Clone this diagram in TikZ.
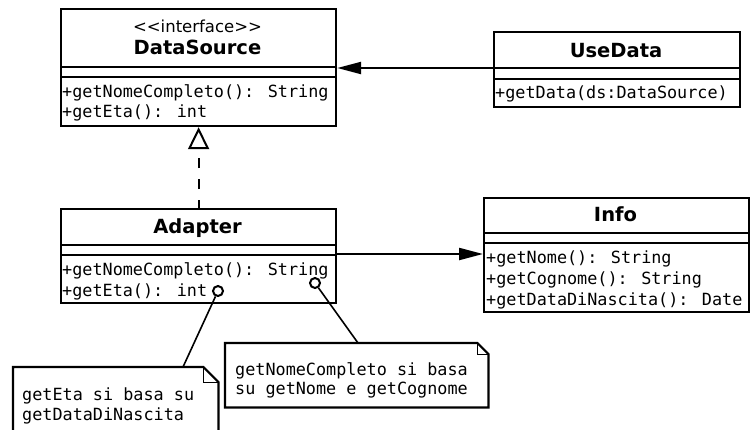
\documentclass[tikz,border=0pt]{standalone}
\usepackage{fontspec}
\setmainfont{DejaVu Sans}
\newfontfamily\monof{DejaVu Sans Mono}
\usetikzlibrary{arrows.meta,calc}
\tikzset{
  classbox/.style={draw, line width=2.2pt, inner sep=0pt, anchor=north west},
  sepline/.style={line width=2.2pt},
  ctitle/.style={font=\fontsize{19.5}{22}\selectfont\bfseries, inner sep=0pt, anchor=base},
  stereo/.style={font=\fontsize{16.5}{19}\selectfont, inner sep=0pt, anchor=base},
  optext/.style={font=\monof\fontsize{16.8}{20}\selectfont, inner sep=0pt, anchor=base west},
  assoc/.style={line width=2.2pt, -{Triangle[length=24pt,width=12pt]}},
  realize/.style={line width=2.2pt, dash pattern=on 10pt off 11pt, dash phase=2pt, -{Triangle[open,length=22pt,width=21pt,line width=2pt]}},
  notearea/.style={inner sep=0pt, anchor=north west},
  noteline/.style={line width=2.2pt, line join=miter},
  foldline/.style={line width=1pt},
  anchorcirc/.style={circle, draw, line width=2pt, minimum size=10pt, inner sep=0pt, fill=white},
  notelink/.style={line width=1.6pt}
}
\begin{document}
\begin{tikzpicture}[x=1pt,y=-1pt]
\useasboundingbox (0,0) rectangle (755,429);
\clip (0,0) rectangle (755,429);
\fill[white] (0,0) rectangle (755,429);

% DataSource
\node[classbox, minimum width=275pt, minimum height=117pt] (ds) at (60,8) {};
\draw[sepline] (60,67) -- (335,67);
\draw[sepline] (60,77) -- (335,77);
\node[stereo] (dsSt) at (197.5,32) {<\kern0pt<interface>\kern0pt>};
\node[ctitle] (dsName) at (197.5,54) {DataSource};
\node[optext] (dsOp1) at (62,97) {+getNomeCompleto(): String};
\node[optext] (dsOp2) at (62,117) {+getEta(): int};

% UseData
\node[classbox, minimum width=246pt, minimum height=75pt] (ud) at (493,31) {};
\draw[sepline] (493,68) -- (739,68);
\draw[sepline] (493,79) -- (739,79);
\node[ctitle] (udName) at (616,57) {UseData};
\node[optext] (udOp1) at (495,98) {+getData(ds:DataSource)};

% Adapter
\node[classbox, minimum width=275pt, minimum height=94pt] (ad) at (60,208) {};
\draw[sepline] (60,245) -- (335,245);
\draw[sepline] (60,255) -- (335,255);
\node[ctitle] (adName) at (197.5,233) {Adapter};
\node[optext] (adOp1) at (62,275) {+getNomeCompleto(): String};
\node[optext] (adOp2) at (62,296) {+getEta(): int};

% Info
\node[classbox, minimum width=265pt, minimum height=114pt] (inf) at (483,197) {};
\draw[sepline] (483,233) -- (748,233);
\draw[sepline] (483,243) -- (748,243);
\node[ctitle] (infName) at (615.5,221) {Info};
\node[optext] (infOp1) at (486,263) {+getNome(): String};
\node[optext] (infOp2) at (486,284) {+getCognome(): String};
\node[optext] (infOp3) at (486,305) {+getDataDiNascita(): Date};

% connectors
\draw[assoc] (ud.west |- 0,68) -- (ds.east |- 0,68);
\draw[assoc] (ad.east |- 0,254) -- (inf.west |- 0,254);
\draw[realize] (ad.north) -- (ds.south);

% notes
\node[notearea, minimum width=205pt, minimum height=80pt] (n1) at (13,367) {};
\draw[noteline] (n1.north west) -- ([xshift=-15pt]n1.north east) -- ([yshift=-15pt]n1.north east) -- (n1.south east) -- (n1.south west) -- cycle;
\draw[foldline] ([xshift=-15pt]n1.north east) |- ([yshift=-15pt]n1.north east);
\node[optext] (n1t1) at (22,400) {getEta si basa su};
\node[optext] (n1t2) at (22,420) {getDataDiNascita};

\node[notearea, minimum width=263pt, minimum height=64pt] (n2) at (225,343) {};
\draw[noteline] (n2.north west) -- ([xshift=-11pt]n2.north east) -- ([yshift=-11pt]n2.north east) -- (n2.south east) -- (n2.south west) -- cycle;
\draw[foldline] ([xshift=-11pt]n2.north east) |- ([yshift=-11pt]n2.north east);
\node[optext] (n2t1) at (235,375) {getNomeCompleto si basa};
\node[optext] (n2t2) at (235,394) {su getNome e getCognome};

% note links
\coordinate (n1top) at (183,367);
\coordinate (n2top) at (358,343);
\node[anchorcirc] (c1) at (218,291) {};
\node[anchorcirc] (c2) at (315,283) {};
\draw[notelink] (c1) -- (n1top);
\draw[notelink] (c2) -- (n2top);
\end{tikzpicture}
\end{document}
